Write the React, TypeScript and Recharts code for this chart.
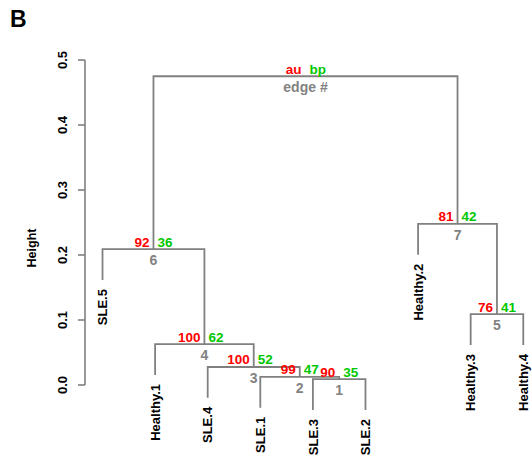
import React from 'react';
import { LineChart, Line, XAxis, YAxis, ReferenceLine, ReferenceDot, Label } from 'recharts';

// Leaves in dendrogram order
const leafLabels = ['SLE.5', 'Healthy.1', 'SLE.4', 'SLE.1', 'SLE.3', 'SLE.2', 'Healthy.2', 'Healthy.3', 'Healthy.4'];
// hclust-style merges: negative = leaf (1-based position in leaf order), positive = edge number
const mergeLeft = [-5, -4, -3, -2, -8, -1, -7, 6];
const mergeRight = [-6, 1, 2, 3, -9, 4, 5, 7];
const mergeHeights = [0.009, 0.0125, 0.0277, 0.063, 0.109, 0.209, 0.248, 0.475];
const auValues = ['90', '99', '100', '100', '76', '92', '81', 'au'];
const bpValues = ['35', '47', '52', '62', '41', '36', '42', 'bp'];
const edgeLabels = ['1', '2', '3', '4', '5', '6', '7', 'edge #'];
const yTicks = [0, 0.1, 0.2, 0.3, 0.4, 0.5];
const hang = 0.0475;

const X_DOMAIN: [number, number] = [0.667, 9.09];
const Y_DOMAIN: [number, number] = [-0.06, 0.5];

const FONT = '"Liberation Sans", Arial, Helvetica, sans-serif';
const LINE = '#808080';
const RED = '#ff0000';
const GREEN = '#00c800';
const GREY = '#828282';

// derived tree geometry (from data via indices only)
const nodeX: number[] = [];
const childX = (c: number) => (c < 0 ? -c : nodeX[c - 1]);
mergeLeft.forEach((l, i) => {
  nodeX[i] = (childX(l) + childX(mergeRight[i])) / 2;
});
const childBottom = (c: number, parentH: number) => (c < 0 ? parentH - hang : mergeHeights[c - 1]);

const segments = mergeLeft.map((l, i) => {
  const r = mergeRight[i];
  const h = mergeHeights[i];
  return [
    { x: childX(l), y: childBottom(l, h) },
    { x: childX(l), y: h },
    { x: childX(r), y: h },
    { x: childX(r), y: childBottom(r, h) },
  ];
});

const leaves: { x: number; y: number; label: string }[] = [];
mergeLeft.forEach((l, i) => {
  [l, mergeRight[i]].forEach((c) => {
    if (c < 0) leaves.push({ x: -c, y: mergeHeights[i] - hang, label: leafLabels[-c - 1] });
  });
});

const YTick = (props: any) => {
  const { x, y, payload } = props;
  return (
    <text
      x={x}
      y={y}
      transform={`rotate(-90 ${x} ${y})`}
      textAnchor="middle"
      fontFamily={FONT}
      fontWeight="bold"
      fontSize={13}
      fill="#000"
    >
      {payload.value.toFixed(1)}
    </text>
  );
};

export default function App() {
  return (
    <div style={{ position: 'absolute', left: 0, top: 0, width: 532, height: 474, background: '#fff' }}>
      <div
        style={{
          position: 'absolute',
          left: 10,
          top: 6,
          fontFamily: FONT,
          fontWeight: 'bold',
          fontSize: 23,
          color: '#000',
        }}
      >
        B
      </div>
      <LineChart width={532} height={474} margin={{ top: 60, right: 4, bottom: 50, left: 0 }}>
        <XAxis type="number" dataKey="x" domain={X_DOMAIN} hide allowDataOverflow={false} />
        <YAxis
          type="number"
          dataKey="y"
          domain={Y_DOMAIN}
          ticks={yTicks}
          width={85}
          axisLine={false}
          tickLine={{ stroke: LINE, strokeWidth: 1.6 }}
          tickSize={7}
          tickMargin={11}
          tick={<YTick />}
          interval={0}
        >
          <Label
            content={(p: any) => {
              const vb = p.viewBox;
              const x = vb.x + 36;
              const y = vb.y + vb.height / 2 + 6;
              return (
                <text
                  x={x}
                  y={y}
                  transform={`rotate(-90 ${x} ${y})`}
                  textAnchor="middle"
                  fontFamily={FONT}
                  fontWeight="bold"
                  fontSize={12.5}
                  fill="#000"
                >
                  Height
                </text>
              );
            }}
          />
        </YAxis>
        <ReferenceLine
          segment={[
            { x: X_DOMAIN[0], y: yTicks[0] },
            { x: X_DOMAIN[0], y: yTicks[yTicks.length - 1] },
          ]}
          stroke={LINE}
          strokeWidth={1.6}
          ifOverflow="visible"
        />
        {segments.map((seg, i) => (
          <Line
            key={`seg${i}`}
            data={seg}
            dataKey="y"
            type="linear"
            stroke={LINE}
            strokeWidth={1.8}
            dot={false}
            activeDot={false}
            isAnimationActive={false}
            strokeLinejoin="miter"
          />
        ))}
        {mergeHeights.map((h, i) => (
          <ReferenceDot
            key={`node${i}`}
            x={nodeX[i]}
            y={h}
            ifOverflow="visible"
            shape={(p: any) => (
              <g fontFamily={FONT} fontWeight="bold" fontSize={13.5}>
                <text x={p.cx - 4} y={p.cy - 2.5} textAnchor="end" fill={RED}>
                  {auValues[i]}
                </text>
                <text x={p.cx + 4} y={p.cy - 2.5} textAnchor="start" fill={GREEN}>
                  {bpValues[i]}
                </text>
                <text x={p.cx} y={p.cy + 16} textAnchor="middle" fill={GREY} fontSize={14}>
                  {edgeLabels[i]}
                </text>
              </g>
            )}
          />
        ))}
        {leaves.map((lf, i) => (
          <ReferenceDot
            key={`leaf${i}`}
            x={lf.x}
            y={lf.y}
            ifOverflow="visible"
            shape={(p: any) => {
              const tx = p.cx + 4.7;
              const ty = p.cy + 9;
              return (
                <text
                  x={tx}
                  y={ty}
                  transform={`rotate(-90 ${tx} ${ty})`}
                  textAnchor="end"
                  fontFamily={FONT}
                  fontWeight="bold"
                  fontSize={13}
                  fill="#000"
                >
                  {lf.label}
                </text>
              );
            }}
          />
        ))}
      </LineChart>
    </div>
  );
}
